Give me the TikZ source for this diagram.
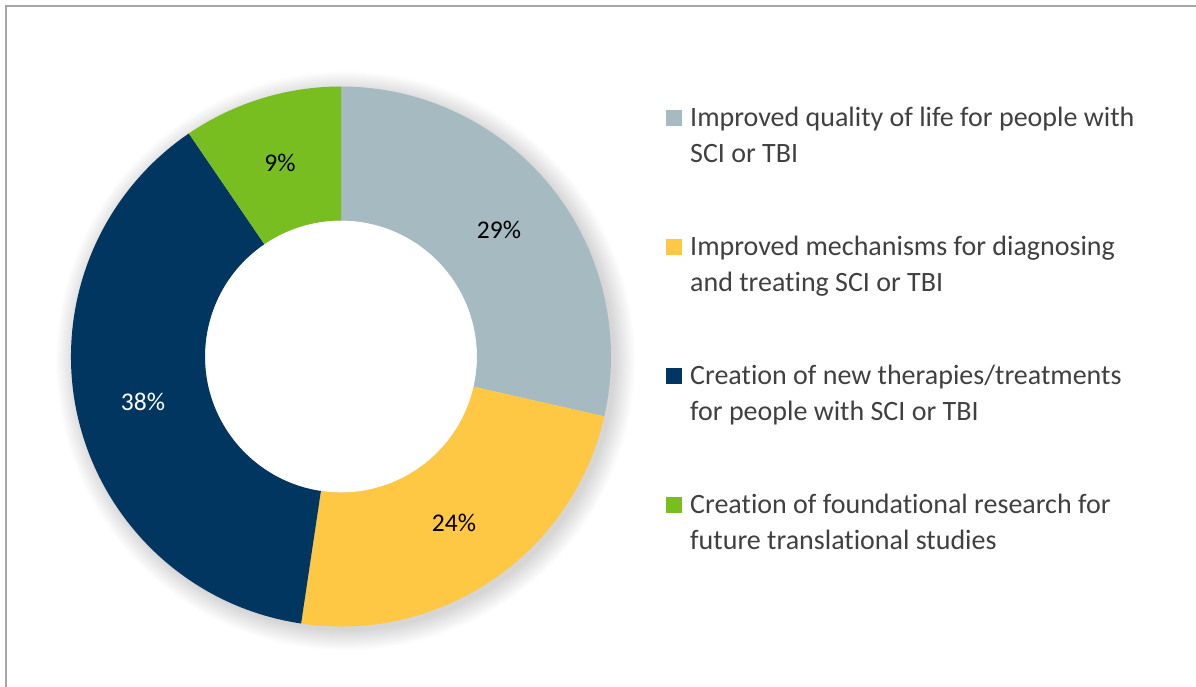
\documentclass[tikz,border=0pt]{standalone}
\usepackage{fontspec}
\setmainfont{Carlito}[Ligatures={NoCommon}]
\usetikzlibrary{positioning,calc}
\definecolor{segGray}{HTML}{A5BBC1}
\definecolor{segYellow}{HTML}{FFC844}
\definecolor{segNavy}{HTML}{003660}
\definecolor{segGreen}{HTML}{78BE20}
\definecolor{legText}{HTML}{404040}
\definecolor{frameGray}{HTML}{A6A6A6}
\pgfdeclareradialshading{halo}{\pgfpoint{0bp}{0bp}}{color(0bp)=(black!16); color(23.2bp)=(black!16); color(25bp)=(white); color(50bp)=(white)}
\tikzset{
  pct/.style={font=\fontsize{25.5}{30}\selectfont, inner sep=0pt},
  legline/.style={font=\fontsize{28}{36}\selectfont, text=legText, anchor=base west, inner sep=0pt},
  legbox/.style={minimum size=16pt, inner sep=0pt, anchor=south west}
}
\begin{document}
\begin{tikzpicture}[x=1pt,y=1pt]
		\useasboundingbox (0,0) rectangle (1196,-686);
		\clip (0,0) rectangle (1196,-686);
		\draw[frameGray, line width=2pt] (6,-6) rectangle (1210,-700);
		\coordinate (C) at (341,-356.5);
		% soft shadow round the ring
		\shade[shading=halo] ($(C)+(4,-4)$) circle (290);
		\fill[white] (C) circle (136);
		\foreach \a/\b/\col in {90/-12.8/segGray, -12.8/-98.5/segYellow, -98.5/-235.7/segNavy, 124.3/90/segGreen}
			\fill[\col, shift={(C)}] (\a:270) arc[start angle=\a, end angle=\b, radius=270] -- (\b:136) arc[start angle=\b, end angle=\a, radius=136] -- cycle;
		\node[pct] (p29) at (499,-230) {29\%};
		\node[pct] (p24) at (454,-523) {24\%};
		\node[pct, text=white] (p38) at (143,-402) {38\%};
		\node[pct] (p9) at (280,-163) {9\%};
		% legend
		\node[legbox, fill=segGray] (b1) at (666,-126) {};
		\node[legline] (t1) at (690,-126) {Improved quality of life for people with};
		\node[legline] (t1b) at (690,-162.5) {SCI or TBI};
		\node[legbox, fill=segYellow] (b2) at (666,-255) {};
		\node[legline] (t2) at (690,-255) {Improved mechanisms for diagnosing};
		\node[legline] (t2b) at (690,-291.5) {and treating SCI or TBI};
		\node[legbox, fill=segNavy] (b3) at (666,-384) {};
		\node[legline] (t3) at (690,-384) {Creation of new therapies/treatments};
		\node[legline] (t3b) at (690,-420.5) {for people with SCI or TBI};
		\node[legbox, fill=segGreen] (b4) at (666,-513) {};
		\node[legline] (t4) at (690,-513) {Creation of foundational research for};
		\node[legline] (t4b) at (690,-549.5) {future translational studies};
\end{tikzpicture}
\end{document}
